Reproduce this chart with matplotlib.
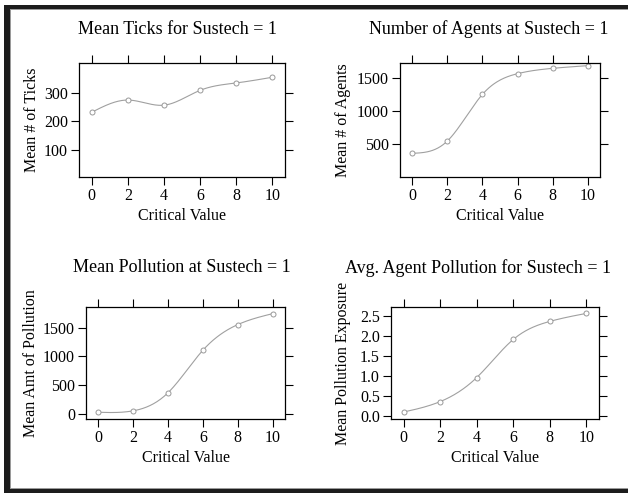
import numpy as np
import matplotlib
matplotlib.use("Agg")
import matplotlib.pyplot as plt
from matplotlib.patches import Rectangle

plt.rcParams['font.family'] = ['Liberation Serif', 'DejaVu Serif']

# data
crit = [0, 2, 4, 6, 8, 10]
ticks_mean = [232, 275, 257, 309, 335, 355]
agents_mean = [365, 550, 1250, 1560, 1640, 1680]
pollution_mean = [30, 55, 370, 1110, 1555, 1745]
exposure_mean = [0.11, 0.37, 0.97, 1.92, 2.37, 2.57]

W, H = 628, 493


def natural_spline(x, y, n=200):
    """Natural cubic spline through the points, for the smooth curve"""
    x = np.asarray(x, float)
    y = np.asarray(y, float)
    k = len(x)
    h = np.diff(x)
    A = np.zeros((k, k))
    b = np.zeros(k)
    A[0, 0] = A[-1, -1] = 1
    for i in range(1, k - 1):
        A[i, i - 1] = h[i - 1]
        A[i, i] = 2 * (h[i - 1] + h[i])
        A[i, i + 1] = h[i]
        b[i] = 6 * ((y[i + 1] - y[i]) / h[i] - (y[i] - y[i - 1]) / h[i - 1])
    M = np.linalg.solve(A, b)
    xs = np.linspace(x[0], x[-1], n)
    idx = np.clip(np.searchsorted(x, xs) - 1, 0, k - 2)
    x0, x1 = x[idx], x[idx + 1]
    hh = x1 - x0
    t0, t1 = x1 - xs, xs - x0
    ys = (M[idx] * t0 ** 3 + M[idx + 1] * t1 ** 3) / (6 * hh) \
        + (y[idx] / hh - M[idx] * hh / 6) * t0 \
        + (y[idx + 1] / hh - M[idx + 1] * hh / 6) * t1
    return xs, ys


def panel(fig, box, ys, ylim, yticks, yticklabels, title, title_xy, ylabel, ylabel_x):
    l, r, t, b = box
    ax = fig.add_axes([l / W, 1 - b / H, (r - l) / W, (b - t) / H])
    xs, sm = natural_spline(crit, ys)
    ax.plot(xs, sm, color='#a0a0a0', lw=0.8)
    ax.plot(crit, ys, ls='none', marker='o', ms=3.6, mfc='white',
            mec='#999999', mew=0.7)
    ax.set_xlim(-0.7, 10.7)
    ax.set_ylim(*ylim)
    ax.set_xticks(crit)
    ax.set_yticks(yticks)
    ax.set_yticklabels(yticklabels)
    ax.tick_params(direction='out', length=6, width=0.8, labelsize=11.5,
                   top=True, right=True, pad=2)
    for s in ax.spines.values():
        s.set_linewidth(0.9)
    ax.set_xlabel('Critical Value', fontsize=11.5, labelpad=3)
    fig.text(title_xy[0] / W, 1 - title_xy[1] / H, title, fontsize=13,
             ha='center', va='center')
    fig.text(ylabel_x / W, 1 - (t + b) / 2 / H, ylabel, fontsize=11.5,
             rotation=90, ha='center', va='center')
    return ax


fig = plt.figure(figsize=(W / 100, H / 100), dpi=100)

panel(fig, (79, 285, 63, 177), ticks_mean, (5, 405), [100, 200, 300],
      ['100', '200', '300'], 'Mean Ticks for Sustech = 1', (178, 29),
      'Mean # of Ticks', 32)
panel(fig, (400, 600, 63, 177), agents_mean, (10, 1720), [500, 1000, 1500],
      ['500', '1000', '1500'], 'Number of Agents at Sustech = 1', (489, 29),
      'Mean # of Agents', 343)
panel(fig, (86, 285, 307, 419), pollution_mean, (-87, 1860),
      [0, 500, 1000, 1500], ['0', '500', '1000', '1500'],
      'Mean Pollution at Sustech = 1', (182, 268),
      'Mean Amt of Pollution', 31)
panel(fig, (391, 599, 307, 419), exposure_mean, (-0.065, 2.73),
      [0, 0.5, 1.0, 1.5, 2.0, 2.5],
      ['0.0', '0.5', '1.0', '1.5', '2.0', '2.5'],
      'Avg. Agent Pollution for Sustech = 1', (478, 268),
      'Mean Pollution Exposure', 343)

# dark frame along the left, top and bottom edges
frame = [(4, 5, 6, 488), (4, 5, 624, 4), (4, 489, 624, 4),
         (10, 9, 618, 1.2), (10, 9, 1.2, 479), (10, 487.5, 618, 1.2)]
for i, (x, y, w, h) in enumerate(frame):
    col = '#1c1c1c' if i < 3 else '#9a9a9a'
    fig.add_artist(Rectangle((x / W, 1 - (y + h) / H), w / W, h / H,
                             transform=fig.transFigure, color=col, lw=0))

fig.savefig('out.png', dpi=100)
